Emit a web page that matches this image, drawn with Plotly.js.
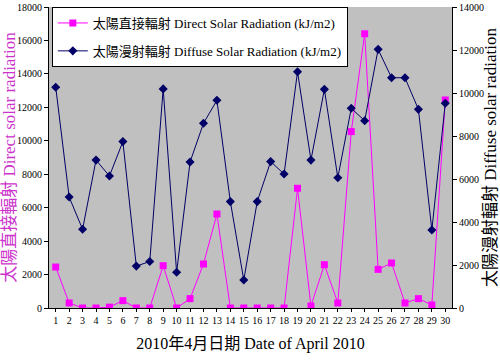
<!DOCTYPE html>
<html>
<head>
<meta charset="utf-8">
<script src="https://cdn.plot.ly/plotly-3.0.1.min.js"></script>
<style>html,body{margin:0;padding:0;background:#fff}#chart{width:500px;height:361px}</style>
</head>
<body>
<div id="chart"></div>
<script>
const days = [1,2,3,4,5,6,7,8,9,10,11,12,13,14,15,16,17,18,19,20,21,22,23,24,25,26,27,28,29,30];
const directRadiation = [2450,300,0,0,50,440,0,0,2530,0,560,2630,5620,0,0,0,0,0,7160,120,2590,300,10550,16400,2310,2690,300,560,180,12440];
const diffuseRadiation = [10270,5160,3660,6880,6140,7740,1950,2160,10190,1660,6790,8590,9660,4950,1300,4950,6810,6230,10990,6880,10170,6060,9290,8710,12030,10710,10710,9240,3630,9520];
const tickLabels = days.map(String);

const serif = 'Liberation Serif, Times New Roman, Noto Sans CJK TC, serif';

const traces = [
  {
    x: days, y: directRadiation, yaxis: 'y', type: 'scatter', mode: 'lines+markers',
    name: '太陽直接輻射 Direct Solar Radiation (kJ/m2)',
    legendgroup: 'a',
    line: {color: '#FF00FF', width: 1},
    marker: {symbol: 'square', size: 7, color: '#FF00FF'}
  },
  {
    x: days, y: diffuseRadiation, yaxis: 'y2', type: 'scatter', mode: 'lines+markers',
    name: '太陽漫射輻射 Diffuse Solar Radiation (kJ/m2)',
    legendgroup: 'b',
    line: {color: '#000066', width: 1},
    marker: {symbol: 'diamond', size: 7, color: '#000066'}
  }
];

const layout = {
  width: 500, height: 361,
  margin: {l: 49, r: 48, t: 7, b: 53},
  paper_bgcolor: '#FFFFFF',
  plot_bgcolor: '#C0C0C0',
  font: {family: serif, color: '#000'},
  showlegend: true,
  legend: {
    x: 0.007, y: 1, xanchor: 'left', yanchor: 'top',
    bgcolor: '#FFFFFF', bordercolor: '#000', borderwidth: 1,
    font: {family: serif, size: 13, color: '#000'},
    traceorder: 'grouped', tracegroupgap: 8
  },
  xaxis: {
    range: [0.5, 30.5], tickmode: 'array', tickvals: days, ticktext: tickLabels,
    showgrid: false, zeroline: false, showline: true, linecolor: '#000', linewidth: 1,
    ticks: 'outside', ticklen: 3, tickcolor: '#000',
    tickfont: {family: serif, size: 10, color: '#000'},
    title: {text: '2010年4月日期 Date of April 2010', font: {family: serif, size: 16, color: '#000'}, standoff: 12}
  },
  yaxis: {
    range: [0, 18000], dtick: 2000, tick0: 0, tickformat: 'd', exponentformat: 'none',
    showgrid: false, zeroline: false, showline: true, linecolor: '#000', linewidth: 1,
    ticks: 'outside', ticklen: 4, tickcolor: '#000',
    tickfont: {family: serif, size: 10, color: '#000'},
    title: {text: '太陽直接輻射 Direct solar radiation', font: {family: serif, size: 17, color: '#CC33CC'}, standoff: 4}
  },
  yaxis2: {
    range: [0, 14000], dtick: 2000, tick0: 0, tickformat: 'd', exponentformat: 'none', overlaying: 'y', side: 'right',
    showgrid: false, zeroline: false, showline: true, linecolor: '#000', linewidth: 1,
    ticks: 'outside', ticklen: 4, tickcolor: '#000',
    tickfont: {family: serif, size: 10, color: '#000'},
    title: {text: '太陽漫射輻射 Diffuse solar radiation', font: {family: serif, size: 17, color: '#000'}, standoff: 4}
  }
};

Plotly.newPlot('chart', traces, layout, {displayModeBar: false, staticPlot: true});
</script>
</body>
</html>
